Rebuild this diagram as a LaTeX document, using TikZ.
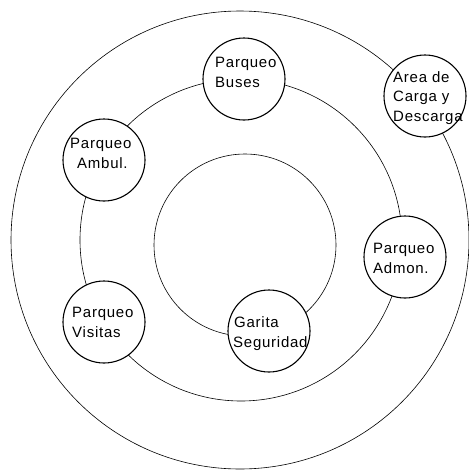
\documentclass[tikz,border=0pt]{standalone}
\usepackage{fontspec}
\setmainfont{Liberation Sans}[LetterSpace=5]
\tikzset{
  ring/.style={draw=black, line width=0.6pt},
  place/.style={circle, draw=black, fill=white, line width=1.1pt, minimum size=82pt, inner sep=0pt},
  lbl/.style={anchor=base west, align=left, inner sep=0pt, font=\fontsize{15}{19.5}\selectfont}
}
\begin{document}
\begin{tikzpicture}[x=1pt, y=-1pt]
\useasboundingbox (0,0) rectangle (469,472);
% rings
\draw[ring] (240,240) circle (229);
\draw[ring] (241,240) circle (161);
\draw[ring] (245,245) circle (91);
% places
\node[place] (buses) at (244,79) {};
\node[place] (carga) at (425,96) {};
\node[place] (ambul) at (104,160) {};
\node[place] (admon) at (405,257) {};
\node[place] (visitas) at (104,322) {};
\node[place] (garita) at (269,331) {};
% labels (anchor = baseline of last line)
\node[lbl] (tbuses) at (215,87) {Parqueo\\Buses};
\node[lbl] (tcarga) at (393,121) {Area de\\Carga y\\Descarga};
\node[lbl] (tambul) at (70,168) {Parqueo\\\hspace*{7pt}Ambul.};
\node[lbl] (tadmon) at (373,273) {Parqueo\\Admon.};
\node[lbl] (tvisitas) at (72,337) {Parqueo\\Visitas};
\node[lbl] (tgarita) at (233,347) {\hspace*{1pt}Garita\\Seguridad};
\end{tikzpicture}
\end{document}
